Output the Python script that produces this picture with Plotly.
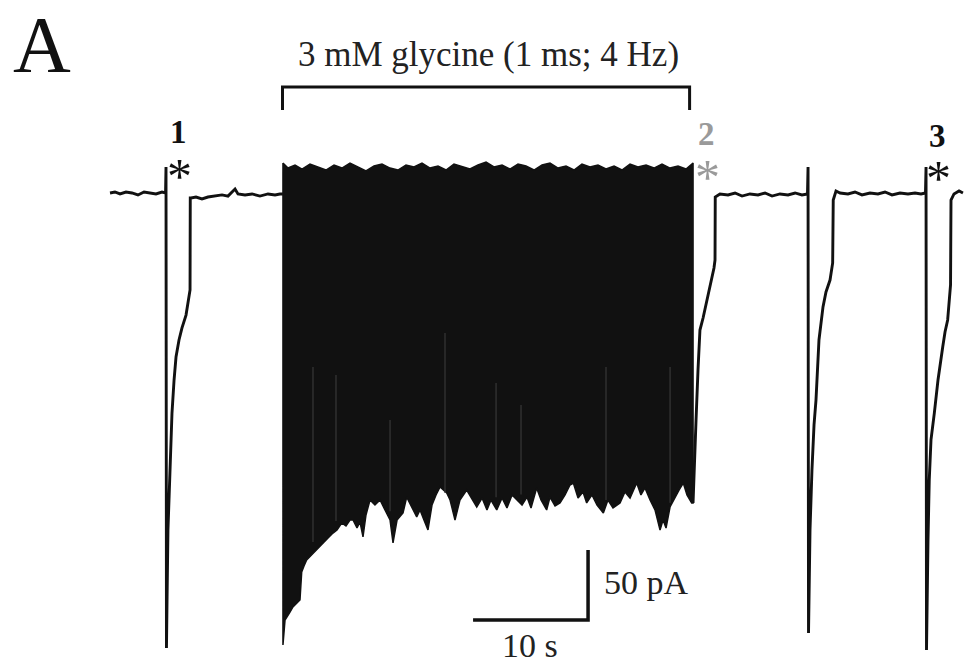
import plotly.graph_objects as go

W, H = 976, 666
OFF = 8  # default page margin of the html body

# ---------------- data (time in s, current in pA) ----------------
# trace before the glycine train: baseline, evoked response 1, baseline
pre_t = [0, 0.43, 0.87, 1.39, 1.91, 2.43, 2.96, 3.48, 4.0, 4.52, 4.83,
         4.87, 4.91, 4.96, 5.04, 5.22, 5.39, 5.57, 5.74, 6.0, 6.26, 6.61, 6.91, 6.96, 6.98,
         7.04, 7.48, 8.0, 8.52, 9.13, 9.74, 10.26, 10.87, 11.13, 11.74, 12.35, 13.04, 13.74,
         14.35, 14.78, 15.04]
pre_I = [-0.7, 0, -1.4, 0, -0.7, -2.1, 0, -0.7, -1.4, 0, -0.7,
         17.9, -325.7, -291.4, -241.4, -191.4, -157.9, -134.3, -117.9, -105.7, -97.1, -87.9, -73.6, -70.0, -4.3,
         -4.3, -3.6, -5.0, -3.6, -2.9, -2.1, -2.9, 2.1, -1.4, -2.1, -1.4, -2.9, -1.4,
         -2.1, -1.4, -1.4]

# glycine train (1 ms pulses, 4 Hz): upper edge and peak envelope
train_top_t = [15.04, 15.48, 16.09, 16.70, 17.39, 18.09, 18.78, 19.48, 20.17, 20.87, 21.57, 22.26,
               22.96, 23.65, 24.35, 25.04, 25.74, 26.43, 27.13, 27.83, 28.52, 29.22, 29.91, 30.61,
               31.30, 32.0, 32.70, 33.39, 34.09, 34.78, 35.48, 36.17, 36.87, 37.57, 38.26, 38.96,
               39.65, 40.35, 41.04, 41.74, 42.43, 43.13, 43.83, 44.52, 45.22, 45.91, 46.61, 47.30,
               48.0, 48.70, 49.39, 50.09, 50.70]
train_top_I = [20.7, 17.1, 19.3, 16.4, 20.0, 17.9, 15.7, 19.3, 17.1, 20.7, 17.9, 15.0,
               18.6, 20.0, 17.1, 15.7, 19.3, 17.9, 20.7, 17.1, 18.6, 15.7, 20.0, 17.9,
               16.4, 19.3, 21.4, 17.9, 19.3, 16.4, 20.0, 18.6, 15.7, 19.3, 20.7, 17.1,
               18.6, 15.7, 20.0, 17.9, 19.3, 16.4, 18.6, 15.7, 20.0, 17.9, 19.3, 17.1,
               20.0, 17.1, 18.6, 16.4, 20.7]
train_peak_t = [15.04, 15.22, 15.65, 15.91, 16.26, 16.52, 16.67, 16.87, 17.10, 17.39, 17.65, 18.09,
                18.52, 18.96, 19.39, 19.74, 20.15, 20.52, 20.87, 21.13, 21.48, 21.74, 22.0, 22.26,
                22.61, 23.04, 23.48, 23.91, 24.35, 24.61, 24.96, 25.48, 25.80, 26.17, 26.67, 26.96,
                27.30, 27.65, 28.0, 28.35, 28.70, 29.28, 29.57, 30.0, 30.43, 31.02, 31.39, 31.89,
                32.35, 32.78, 33.13, 33.63, 34.09, 34.52, 34.96, 35.37, 35.83, 36.26, 36.61, 37.10,
                37.48, 37.97, 38.26, 38.70, 39.13, 39.57, 40.0, 40.29, 40.70, 41.13, 41.45, 41.91,
                42.35, 42.90, 43.30, 43.74, 44.35, 44.78, 45.22, 45.80, 46.17, 46.52, 46.96, 47.39,
                47.83, 48.09, 48.35, 48.70, 49.13, 49.48, 49.85, 50.17, 50.58, 50.70]
train_peak_I = [-323.6, -305.7, -300.0, -296.4, -293.6, -291.4, -271.4, -267.1, -262.9, -260.0, -257.9, -254.3,
                -250.7, -247.1, -243.6, -241.4, -236.4, -238.6, -234.3, -234.3, -240.0, -235.7, -246.4, -230.7,
                -220.0, -223.6, -220.0, -227.1, -234.3, -250.7, -234.3, -229.3, -217.9, -223.6, -232.1, -227.1,
                -234.3, -241.4, -223.6, -216.4, -210.7, -215.0, -220.0, -234.3, -220.0, -212.9, -218.6, -225.0,
                -218.6, -227.1, -220.0, -227.1, -218.6, -225.7, -216.4, -220.0, -223.6, -217.9, -225.7, -211.4,
                -220.0, -227.1, -217.9, -224.3, -222.1, -216.4, -209.3, -207.9, -218.6, -214.3, -222.1, -216.4,
                -223.6, -229.3, -220.0, -225.7, -222.1, -214.3, -218.6, -207.9, -216.4, -211.4, -220.0, -227.1,
                -241.4, -234.3, -240.0, -225.0, -218.6, -212.9, -207.9, -216.4, -222.1, -222.1]

# faint lighter streaks visible inside the train (time, upper and lower current)
streak_t = [17.65, 19.65, 24.35, 29.13, 33.57, 35.74, 43.13, 48.70]
streak_top_I = [-125.0, -130.7, -162.9, -100.7, -136.4, -152.1, -125.0, -125.0]
streak_bot_I = [-250.0, -235.0, -228.0, -215.0, -218.0, -216.0, -220.0, -222.0]

# after the train: decay of last response (2), baseline, response 3
post_t = [50.70, 50.78, 50.96, 51.13, 51.30, 51.57, 51.83, 52.09, 52.35, 52.52, 52.61, 52.63,
          53.04, 53.74, 54.35, 54.96, 55.65, 56.35, 56.96, 57.57, 58.26, 58.96, 59.57, 60.17, 60.65,
          60.70, 60.74, 60.78, 60.87, 61.04, 61.22, 61.39, 61.65, 62.0, 62.26, 62.61, 62.84, 62.89,
          63.13, 63.48, 64.17, 64.78, 65.39, 66.09, 66.78, 67.39, 68.0, 68.70, 69.39, 70.0, 70.52, 70.91,
          70.96, 71.0, 71.04, 71.13, 71.24, 71.39, 71.68, 72.0, 72.41, 72.61, 72.84, 72.98, 73.09, 73.13,
          73.39, 73.83, 74.17]
post_I = [-222.1, -198.6, -162.9, -127.1, -98.6, -90.0, -80.7, -70.0, -60.7, -54.3, -48.6, -3.6,
          -1.4, -2.1, -0.7, -2.9, -1.4, -2.1, -0.7, -2.9, -1.4, -2.1, -0.7, -2.1, -1.4,
          17.9, -315.0, -284.3, -241.4, -198.6, -166.4, -148.6, -105.7, -82.1, -71.4, -62.9, -50.7, -5.7,
          0.7, -0.7, -1.4, 0, -2.1, -0.7, -1.4, 0, -2.1, -0.7, -1.4, -0.7, -1.4, -0.7,
          17.9, -327.1, -298.6, -248.6, -205.7, -177.1, -157.9, -134.3, -110.7, -100.0, -91.4, -75.0, -66.4, -5.7,
          -1.4, 0.7, -0.7]

stim_on, stim_off = 15.0, 50.4       # glycine application bracket (s)
bar_time, bar_current = 10, 50       # scale bar (s, pA)

title_text = "3 mM glycine (1 ms; 4 Hz)"
response_labels = ["1", "2", "3"]

# ---------------- figure ----------------
FW, FH = W - OFF, H - OFF
t_min, t_max = (OFF - 110) / 11.5, (W - 110) / 11.5
i_max, i_min = (192 - OFF) / 1.4, -(H - 192) / 1.4

fig = go.Figure()
ink = "#111111"

poly_t = train_top_t + train_peak_t[::-1] + [train_top_t[0]]
poly_I = train_top_I + train_peak_I[::-1] + [train_top_I[0]]
fig.add_trace(go.Scatter(x=poly_t, y=poly_I, mode="lines", fill="toself",
                         fillcolor=ink, line=dict(color=ink, width=1.5),
                         hoverinfo="skip", showlegend=False))
sx, sy = [], []
for t, a, b in zip(streak_t, streak_top_I, streak_bot_I):
    sx += [t, t, None]
    sy += [a, b, None]
fig.add_trace(go.Scatter(x=sx, y=sy, mode="lines", line=dict(color="#383838", width=1.2),
                         hoverinfo="skip", showlegend=False))
fig.add_trace(go.Scatter(x=pre_t, y=pre_I, mode="lines",
                         line=dict(color=ink, width=2.9), showlegend=False))
fig.add_trace(go.Scatter(x=post_t, y=post_I, mode="lines",
                         line=dict(color=ink, width=2.9), showlegend=False))

def px(x):
    return (x - OFF) / FW

def py(y):
    return 1 - (y - OFF) / FH

# bracket over glycine train
fig.add_shape(type="path", xref="x", yref="paper",
              path=f"M {stim_on},{py(110)} L {stim_on},{py(87)} L {stim_off},{py(87)} L {stim_off},{py(110)}",
              line=dict(color=ink, width=3))

# scale bar
sb_t, sb_I = 41.57, -305.7
fig.add_shape(type="path", xref="x", yref="y",
              path=f"M {sb_t - bar_time},{sb_I} L {sb_t},{sb_I} L {sb_t},{sb_I + bar_current}",
              line=dict(color=ink, width=3.5))

serif = "Liberation Serif"
ann = []
ann.append(dict(text="A", x=px(42), y=py(45), font=dict(family=serif, size=80, color=ink)))
ann.append(dict(text=title_text, x=px(488), y=py(55), font=dict(family=serif, size=35, color="#222")))
lab_pos = [(178.5, 132), (706, 134.5), (937.5, 135.5)]
lab_col = [ink, "#9a9a9a", ink]
ast_pos = [(179, 176), (707, 177), (938, 178)]
for s, (lx, ly), c, (ax, ay) in zip(response_labels, lab_pos, lab_col, ast_pos):
    ann.append(dict(text=f"<b>{s}</b>", x=px(lx), y=py(ly), font=dict(family=serif, size=33, color=c)))
    ann.append(dict(text="*", x=px(ax), y=py(ay), font=dict(family=serif, size=50, color=c)))
ann.append(dict(text=f"{bar_current} pA", x=px(602), y=py(582), xanchor="left",
                font=dict(family=serif, size=34, color="#222")))
ann.append(dict(text=f"{bar_time} s", x=px(530), y=py(645), font=dict(family=serif, size=34, color="#222")))
for a in ann:
    a.setdefault("xanchor", "center")
    a.update(xref="paper", yref="paper", yanchor="middle", showarrow=False)

fig.update_layout(
    width=FW, height=FH, margin=dict(l=0, r=0, t=0, b=0),
    paper_bgcolor="white", plot_bgcolor="white",
    xaxis=dict(range=[t_min, t_max], visible=False, fixedrange=True),
    yaxis=dict(range=[i_min, i_max], visible=False, fixedrange=True),
    annotations=ann, showlegend=False,
)
fig.write_html("out.html")
